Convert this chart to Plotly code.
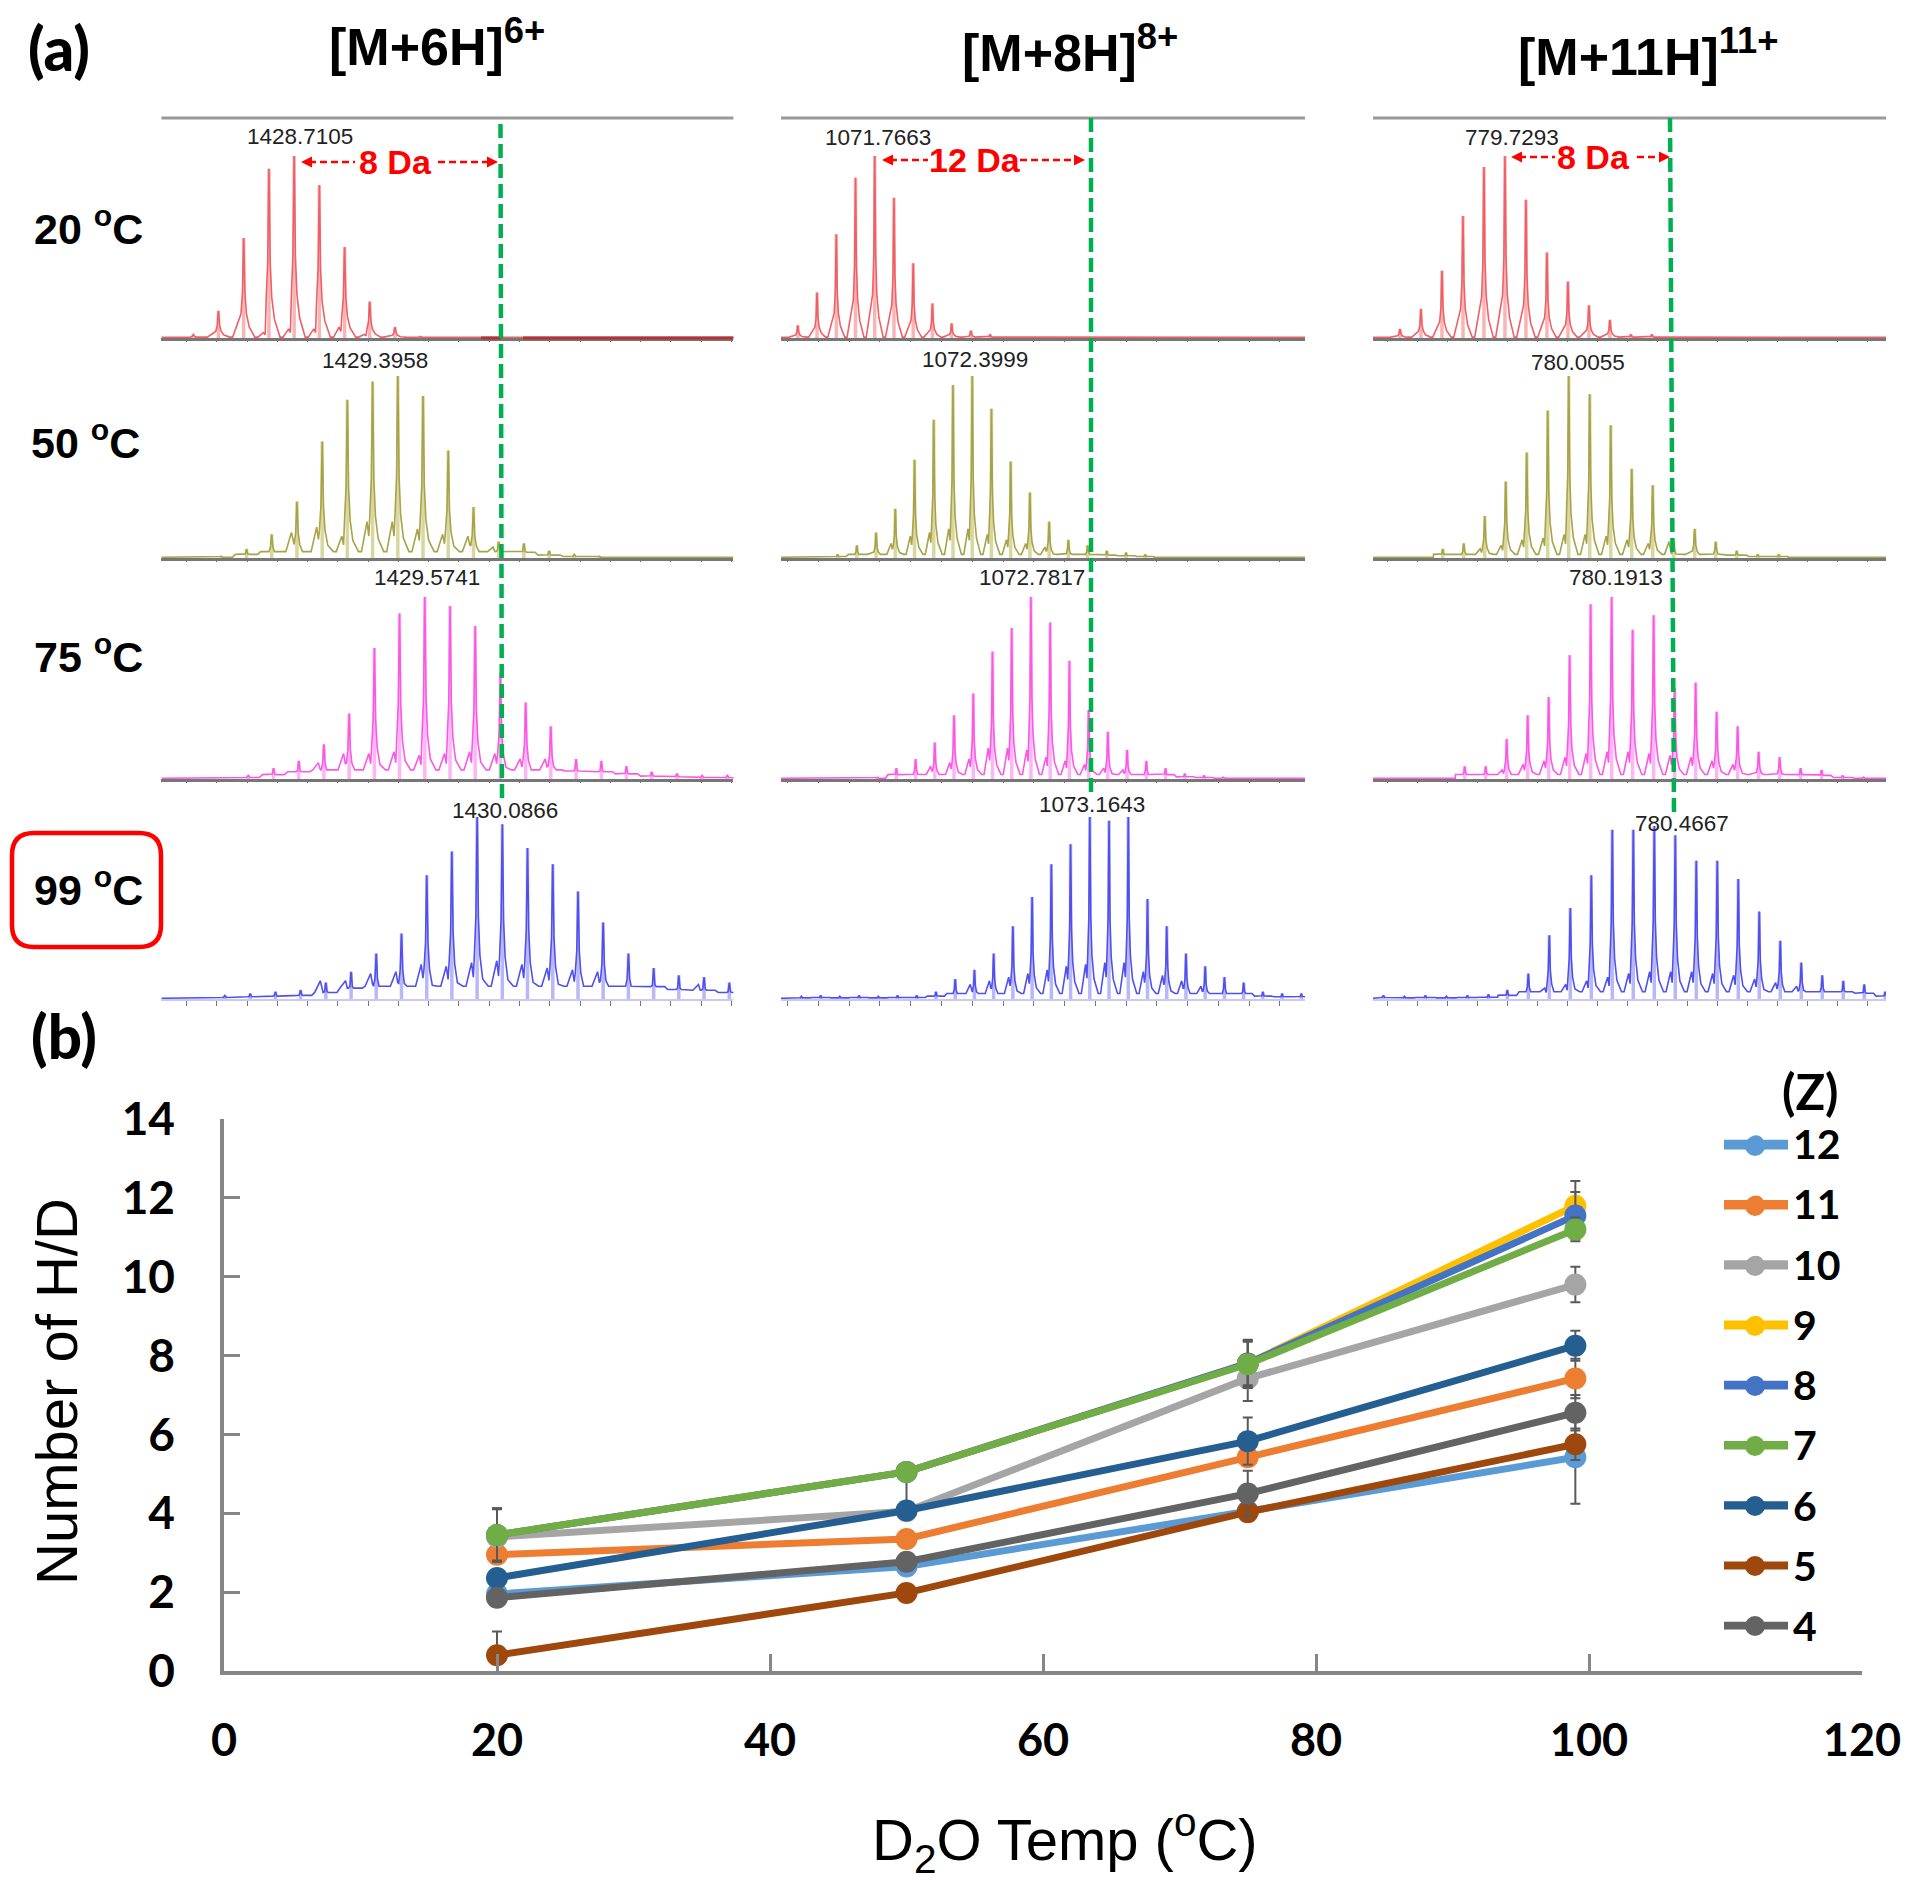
import plotly.graph_objects as go

# ---- panel (a): peaks (m/z, % height, left satellite %)
MZ_6_20 = [1428.044, 1428.21, 1428.377, 1428.544, 1428.7105, 1428.877, 1429.044, 1429.21, 1429.377, 1429.544]
H_6_20 = [2, 15, 55, 93, 100, 84, 50, 20, 6, 1]
S_6_20 = [0, 0, 0, 3, 5, 5, 6, 2, 0, 0]
MZ_6_50 = [1428.229, 1428.396, 1428.562, 1428.729, 1428.896, 1429.062, 1429.229, 1429.3958, 1429.5625, 1429.729,
           1429.896, 1430.062, 1430.229, 1430.396, 1430.562, 1430.729]
H_6_50 = [1, 5, 13, 31, 64, 87, 97, 100, 89, 59, 28, 9, 8, 4, 2, 1]
S_6_50 = [0, 0, 0, 14, 17, 12, 20, 20, 16, 13, 12, 6, 0, 0, 0, 0]
MZ_6_75 = [1428.407, 1428.574, 1428.741, 1428.907, 1429.074, 1429.241, 1429.407, 1429.5741, 1429.741, 1429.907,
           1430.074, 1430.241, 1430.407, 1430.574, 1430.741, 1430.907, 1431.074, 1431.241, 1431.407, 1431.574]
H_6_75 = [2, 6, 10, 19, 36, 72, 91, 100, 95, 84, 58, 42, 29, 11, 10, 7, 4, 3, 2, 2]
S_6_75 = [0, 0, 0, 9, 14, 14, 15, 13, 14, 15, 14, 11, 11, 0, 0, 0, 0, 0, 0, 0]
MZ_6_99 = [1428.253, 1428.42, 1428.587, 1428.753, 1428.92, 1429.087, 1429.253, 1429.42, 1429.587, 1429.753, 1429.92,
           1430.0866, 1430.253, 1430.42, 1430.587, 1430.753, 1430.92, 1431.087, 1431.253, 1431.42, 1431.587]
H_6_99 = [2, 3, 4, 5, 9, 15, 25, 36, 68, 81, 100, 96, 83, 74, 59, 42, 25, 17, 13, 12, 9]
S_6_99 = [0, 0, 0, 0, 10, 10, 14, 15, 19, 18, 20, 21, 19, 17, 16, 15, 0, 0, 0, 8, 0]

MZ_8_20 = [1071.2663, 1071.3913, 1071.5163, 1071.6413, 1071.7663, 1071.8913, 1072.0163, 1072.1413, 1072.2663,
           1072.3913, 1072.5163]
H_8_20 = [7, 25, 57, 88, 100, 77, 41, 19, 8, 4, 2]
S_8_20 = [0] * 11
MZ_8_50 = [1071.5249, 1071.6499, 1071.7749, 1071.8999, 1072.0249, 1072.1499, 1072.2749, 1072.3999, 1072.5249,
           1072.6499, 1072.7749, 1072.8999, 1073.0249, 1073.1499, 1073.2749, 1073.3999, 1073.5249]
H_8_50 = [2, 7, 14, 27, 54, 76, 95, 100, 82, 53, 36, 20, 10, 7, 4, 3, 2]
S_8_50 = [0, 0, 0, 8, 12, 14, 16, 16, 13, 10, 8, 6, 0, 0, 0, 0, 0]
MZ_8_75 = [1071.7817, 1071.9067, 1072.0317, 1072.1567, 1072.2817, 1072.4067, 1072.5317, 1072.6567, 1072.7817,
           1072.9067, 1073.0317, 1073.1567, 1073.2817, 1073.4067, 1073.5317, 1073.6567, 1073.7817, 1073.9067,
           1074.0317]
H_8_75 = [1, 6, 11, 20, 35, 47, 70, 83, 100, 86, 65, 38, 26, 16, 10, 6, 3, 2, 1]
S_8_75 = [0, 0, 0, 7, 9, 11, 17, 17, 16, 12, 10, 8, 6, 5, 0, 0, 0, 0, 0]
MZ_8_99 = [1071.2893, 1071.4143, 1071.5393, 1071.6643, 1071.7893, 1071.9143, 1072.0393, 1072.1643, 1072.2893,
           1072.4143, 1072.5393, 1072.6643, 1072.7893, 1072.9143, 1073.0393, 1073.1643, 1073.2893, 1073.4143,
           1073.5393, 1073.6643, 1073.7893, 1073.9143, 1074.0393, 1074.1643, 1074.2893, 1074.4143, 1074.5393]
H_8_99 = [1.5, 2, 1.5, 2, 1.5, 2, 2, 4, 11, 16, 25, 40, 56, 74, 85, 100, 98, 100, 55, 40, 25, 18, 12, 9, 4, 3, 3]
S_8_99 = [0, 0, 0, 0, 0, 0, 0, 0, 0, 8, 10, 12, 14, 16, 18, 19, 20, 20, 15, 13, 10, 7, 0, 0, 0, 0, 0]

MZ_11_20 = [779.2748, 779.3657, 779.4566, 779.5475, 779.6384, 779.7293, 779.8202, 779.9111, 780.002, 780.0929,
            780.1838, 780.2747, 780.3656]
H_11_20 = [5, 16, 37, 67, 94, 100, 76, 47, 31, 18, 10, 2, 2]
S_11_20 = [0] * 13
MZ_11_50 = [779.4601, 779.551, 779.6419, 779.7328, 779.8237, 779.9146, 780.0055, 780.0964, 780.1873, 780.2782,
            780.3691, 780.46, 780.5509, 780.6418, 780.7327, 780.8236, 780.9145]
H_11_50 = [5, 8, 23, 42, 58, 81, 100, 90, 73, 49, 40, 9, 16, 9, 4, 2, 2]
S_11_50 = [0, 0, 5, 7, 10, 11, 13, 13, 12, 10, 8, 9, 0, 0, 0, 0, 0]
MZ_11_75 = [779.555, 779.6459, 779.7368, 779.8277, 779.9186, 780.0095, 780.1004, 780.1913, 780.2822, 780.3731,
            780.464, 780.5549, 780.6458, 780.7367, 780.8276, 780.9185, 781.0094, 781.1003, 781.1912, 781.2821]
H_11_75 = [7, 7, 22, 35, 45, 68, 96, 100, 82, 90, 50, 53, 37, 29, 15, 12, 6, 5, 2, 1]
S_11_75 = [0, 0, 5, 8, 10, 12, 14, 15, 15, 14, 13, 12, 10, 8, 0, 0, 0, 0, 0, 0]
MZ_11_99 = [779.2031, 779.294, 779.3849, 779.4758, 779.5667, 779.6576, 779.7395, 779.8304, 779.9213, 780.0122,
            780.1031, 780.194, 780.2849, 780.3758, 780.4667, 780.5576, 780.6485, 780.7394, 780.8303, 780.9212,
            781.0121, 781.103, 781.1939, 781.2848, 781.3757]
H_11_99 = [2, 1.5, 2, 1.5, 2, 2.5, 5, 14, 35, 50, 68, 93, 93, 95, 90, 76, 76, 66, 48, 32, 20, 13, 10, 8, 4]
S_11_99 = [0, 0, 0, 0, 0, 0, 0, 0, 6, 8, 10, 12, 14, 15, 15, 15, 14, 13, 11, 9, 7, 0, 0, 0, 0]

VALLEY_6 = [0.5, 3.5, 5, 7]
VALLEY_8 = [0.5, 2, 2.5, 3]
VALLEY_11 = [0.5, 2, 2.5, 4]

COLUMN_TITLES = ["[M+6H]<sup>6+</sup>", "[M+8H]<sup>8+</sup>", "[M+11H]<sup>11+</sup>"]
TEMP_LABELS = ["20 <sup>o</sup>C", "50 <sup>o</sup>C", "75 <sup>o</sup>C", "99 <sup>o</sup>C"]
PEAK_LABELS = [["1428.7105", "1429.3958", "1429.5741", "1430.0866"],
               ["1071.7663", "1072.3999", "1072.7817", "1073.1643"],
               ["779.7293", "780.0055", "780.1913", "780.4667"]]
SHIFT_LABELS = ["8 Da", "12 Da", "8 Da"]

# ---- panel (b): D2O temperature vs number of H/D, per charge state
TEMPS = [20, 50, 75, 99]
CHARGES = ["12", "11", "10", "9", "8", "7", "6", "5", "4"]
HD_12 = [1.95, 2.65, 4.05, 5.42]
HD_11 = [2.95, 3.35, 5.42, 7.42]
HD_10 = [3.4, 4.05, 7.42, 9.8]
HD_9 = [3.45, 5.05, 7.8, 11.8]
HD_8 = [3.45, 5.05, 7.8, 11.55]
HD_7 = [3.45, 5.05, 7.78, 11.2]
HD_6 = [2.36, 4.07, 5.83, 8.25]
HD_5 = [0.4, 1.98, 4.03, 5.75]
HD_4 = [1.86, 2.77, 4.5, 6.55]
ERR_12 = [0.2, 0.2, 0.2, 1.18]
ERR_11 = [0.2, 0.2, 0.2, 0.5]
ERR_10 = [0.2, 0.2, 0.57, 0.45]
ERR_9 = [0.68, 0.2, 0.6, 0.63]
ERR_8 = [0.65, 0.2, 0.55, 0.6]
ERR_7 = [0.68, 0.2, 0.6, 0.3]
ERR_7_LOW = [0.68, 0.9, 0.6, 0.3]
ERR_6 = [0.2, 0.2, 0.6, 0.38]
ERR_5 = [0.6, 0.2, 0.2, 0.4]
ERR_4 = [0.2, 0.2, 0.58, 0.45]

SANS = "Liberation Sans"
LATO = "Lato"
W, H = 1920, 1890


def fx(x):
    return x / W


def fy(y):
    return 1 - y / H


def profile(mz, heights, sats, valley, x0, x1):
    # turn a peak table into the drawn trace: sharp tip, feet, small left satellite
    sp = mz[1] - mz[0]
    xs, ys = [x0, mz[0] - 0.45 * sp], [0.4, 0.4]
    for m, h, s in zip(mz, heights, sats):
        v = min(valley, h * 0.4)
        xs += [m - 0.44 * sp]
        ys += [v]
        if s > v:
            xs += [m - 0.22 * sp, m - 0.15 * sp]
            ys += [s, s * 0.6]
        xs += [m - 0.11 * sp, m - 0.05 * sp, m - 0.02 * sp, m,
               m + 0.02 * sp, m + 0.05 * sp, m + 0.11 * sp, m + 0.22 * sp, m + 0.44 * sp]
        ys += [max(0.24 * h, v), 0.45 * h, 0.8 * h, h,
               0.8 * h, 0.45 * h, max(0.24 * h, v), max(0.11 * h, v), v]
    xs += [mz[-1] + 0.45 * sp, x1]
    ys += [0.4, 0.4]
    return xs, ys


def stems(mz, heights):
    xs, ys = [], []
    for m, h in zip(mz, heights):
        xs += [m, m, None]
        ys += [0, h, None]
    return xs, ys


fig = go.Figure()

ROW_BASE = [338, 558, 779, 999]
ROW_COLORS = ["#ef6066", "#a6a348", "#fb58e4", "#5050ee"]
STEM_COLORS = ["#f9b5b5", "#d9d7a0", "#fdb5f3", "#b8b8f8"]
COL_PX = [(161.4, 733.4), (781, 1305), (1373, 1886)]
COL_RANGE = [(1427.833, 1431.614), (1071.157, 1074.563), (779.158, 781.379)]
COL_TICK = [0.2, 0.2, 0.13]
PANELS = [
    [(MZ_6_20, H_6_20, S_6_20), (MZ_6_50, H_6_50, S_6_50), (MZ_6_75, H_6_75, S_6_75), (MZ_6_99, H_6_99, S_6_99)],
    [(MZ_8_20, H_8_20, S_8_20), (MZ_8_50, H_8_50, S_8_50), (MZ_8_75, H_8_75, S_8_75), (MZ_8_99, H_8_99, S_8_99)],
    [(MZ_11_20, H_11_20, S_11_20), (MZ_11_50, H_11_50, S_11_50), (MZ_11_75, H_11_75, S_11_75),
     (MZ_11_99, H_11_99, S_11_99)],
]
VALLEYS = [VALLEY_6, VALLEY_8, VALLEY_11]

axes = {}
n = 0
for c, col in enumerate(PANELS):
    for r, (mz, hts, sats) in enumerate(col):
        n += 1
        xa, ya = f"x{n}", f"y{n}"
        sx, sy = stems(mz, hts)
        fig.add_trace(go.Scatter(x=sx, y=sy, xaxis=xa, yaxis=ya, mode="lines", showlegend=False, hoverinfo="skip",
                                 line=dict(color=STEM_COLORS[r], width=3.5)))
        px_, py_ = profile(mz, hts, sats, VALLEYS[c][r], COL_RANGE[c][0], COL_RANGE[c][1])
        fig.add_trace(go.Scatter(x=px_, y=py_, xaxis=xa, yaxis=ya, mode="lines", showlegend=False, hoverinfo="skip",
                                 line=dict(color=ROW_COLORS[r], width=1.6)))
        last = r == 3
        axes[f"xaxis{n}"] = dict(domain=[fx(COL_PX[c][0]), fx(COL_PX[c][1])], range=list(COL_RANGE[c]),
                                 anchor=ya, showgrid=False, zeroline=False, showticklabels=False,
                                 showline=True, linecolor="#c9c9f6" if last else "#777777",
                                 linewidth=2 if last else 3, layer="above traces",
                                 ticks="outside", dtick=COL_TICK[c], ticklen=5 if last else 1, tickwidth=1,
                                 tickcolor="#777777" if last else "#666666")
        axes[f"yaxis{n}"] = dict(domain=[fy(ROW_BASE[r]), fy(ROW_BASE[r] - 190)], range=[0, 104.4], anchor=xa,
                                 visible=False)

SERIES = [HD_12, HD_11, HD_10, HD_9, HD_8, HD_7, HD_6, HD_5, HD_4]
ERRORS = [ERR_12, ERR_11, ERR_10, ERR_9, ERR_8, ERR_7, ERR_6, ERR_5, ERR_4]
ERRORS_LOW = [ERR_12, ERR_11, ERR_10, ERR_9, ERR_8, ERR_7_LOW, ERR_6, ERR_5, ERR_4]
COLORS = ["#5b9bd5", "#ed7d31", "#a5a5a5", "#ffc000", "#4472c4", "#70ad47", "#255e91", "#9e480e", "#636363"]
for name, vals, errs, errs_low, color in zip(CHARGES, SERIES, ERRORS, ERRORS_LOW, COLORS):
    fig.add_trace(go.Scatter(x=TEMPS, y=vals, name=name, legendgroup=name, xaxis="x13", yaxis="y13",
                             mode="lines+markers", line=dict(color=color, width=7), marker=dict(color=color, size=22),
                             error_y=dict(type="data", symmetric=False, array=errs, arrayminus=errs_low,
                                          color="#595959", thickness=2, width=5)))

axes["xaxis13"] = dict(domain=[fx(224), fx(1862)], range=[0, 120], anchor="y13", dtick=20, showgrid=False,
                       zeroline=False, showline=True, linecolor="#868686", linewidth=3.5, ticks="inside", ticklen=17,
                       tickwidth=2.5, tickcolor="#868686", ticklabelstandoff=27,
                       tickfont=dict(family=LATO, size=45, weight=700, color="black"))
axes["yaxis13"] = dict(domain=[fy(1671), fy(1119)], range=[0, 14], anchor="x13", dtick=2, showgrid=False,
                       zeroline=False, showline=True, linecolor="#868686", linewidth=3.5, ticks="inside", ticklen=16,
                       tickwidth=2.5, tickcolor="#868686", ticklabelstandoff=36,
                       tickfont=dict(family=LATO, size=46, weight=700, color="black"))


def label(text, x, y, size, family=SANS, weight=400, color="black", angle=0):
    return dict(text=text, x=fx(x), y=fy(y), xref="paper", yref="paper", showarrow=False, xanchor="center",
                yanchor="middle", textangle=angle, font=dict(family=family, size=size, weight=weight, color=color))


notes = [label("(a)", 59, 48, 60, LATO, 900), label("(b)", 64, 1036, 60, LATO, 900),
         label("(Z)", 1810, 1091, 49, LATO, 700),
         label("Number of H/D", 56, 1392, 58, angle=-90),
         label("D<sub>2</sub>O Temp (<sup>o</sup>C)", 1065, 1840, 58)]
for text, x, y in zip(COLUMN_TITLES, [437, 1070, 1648], [43, 49, 53]):
    notes.append(label(text, x, y, 52, SANS, 700))
for text, x, y in zip(TEMP_LABELS, [88, 85, 88, 88], [226, 440, 654, 887]):
    notes.append(label(text, x, y, 43, SANS, 700))
LABEL_X = [[300, 375, 427, 505], [878, 975, 1032, 1092], [1512, 1578, 1616, 1682]]
LABEL_Y = [[136, 360, 578, 810], [137, 359, 577, 804], [137, 362, 577, 823]]
for c in range(3):
    for r in range(4):
        notes.append(label(PEAK_LABELS[c][r], LABEL_X[c][r], LABEL_Y[c][r], 22.5, color="#222222"))
for text, x, y in zip(SHIFT_LABELS, [395, 975, 1593], [162, 160, 157]):
    notes.append(label(text, x, y, 34, SANS, 700, "#ff0000"))


def line_shape(x0, y0, x1, y1, color, width, dash="solid"):
    return dict(type="line", xref="paper", yref="paper", x0=fx(x0), y0=fy(y0), x1=fx(x1), y1=fy(y1),
                line=dict(color=color, width=width, dash=dash))


def arrow_head(x, y, direction):
    path = f"M {fx(x)},{fy(y)} L {fx(x - direction * 11)},{fy(y - 5.5)} L {fx(x - direction * 11)},{fy(y + 5.5)} Z"
    return dict(type="path", xref="paper", yref="paper", path=path, fillcolor="#ff0000", line=dict(width=0))


def rounded_box(x0, y0, x1, y1, rad):
    pts = [f"M {fx(x0 + rad)},{fy(y0)}", f"L {fx(x1 - rad)},{fy(y0)}", f"Q {fx(x1)},{fy(y0)} {fx(x1)},{fy(y0 + rad)}",
           f"L {fx(x1)},{fy(y1 - rad)}", f"Q {fx(x1)},{fy(y1)} {fx(x1 - rad)},{fy(y1)}",
           f"L {fx(x0 + rad)},{fy(y1)}", f"Q {fx(x0)},{fy(y1)} {fx(x0)},{fy(y1 - rad)}",
           f"L {fx(x0)},{fy(y0 + rad)}", f"Q {fx(x0)},{fy(y0)} {fx(x0 + rad)},{fy(y0)} Z"]
    return dict(type="path", xref="paper", yref="paper", path=" ".join(pts), line=dict(color="#ff0000", width=4.5))


shapes = [rounded_box(12, 833, 161, 947, 22),
          line_shape(523, 338, 733.4, 338, "#ad3535", 3), line_shape(481, 338, 501, 338, "#ad3535", 3)]
for x0, x1 in COL_PX:
    shapes.append(line_shape(x0, 118, x1, 118, "#999999", 3))
GREEN_DASH = "14px,6px"
shapes += [line_shape(500.5, 124, 502, 803, "#00b050", 4.5, GREEN_DASH),
           line_shape(1091, 118, 1091, 793, "#00b050", 4.5, GREEN_DASH),
           line_shape(1670, 118, 1674, 815, "#00b050", 4.5, GREEN_DASH)]
RED_DASH = "7px,4px"
for left, mid0, mid1, right, y in [(301, 355, 438, 498, 162), (882, 928, 1020, 1085, 160), (1511, 1555, 1637, 1670, 157)]:
    shapes += [line_shape(left + 8, y, mid0, y, "#ff0000", 2.5, RED_DASH),
               line_shape(mid1, y, right - 8, y, "#ff0000", 2.5, RED_DASH),
               arrow_head(left, y, -1), arrow_head(right, y, 1)]

# the native legend caps its glyphs, so thicken them to the reference size
LEGEND_ROWS = [1146, 1206, 1266, 1326, 1386, 1446, 1506, 1566, 1626]
for row_y, color in zip(LEGEND_ROWS, COLORS):
    shapes.append(line_shape(1724, row_y, 1788, row_y, color, 7))
    shapes.append(dict(type="circle", xref="paper", yref="paper", x0=fx(1745), x1=fx(1765), y0=fy(row_y - 10),
                       y1=fy(row_y + 10), fillcolor=color, line=dict(width=0)))

fig.update_layout(width=W, height=H, margin=dict(l=0, r=0, t=0, b=0, autoexpand=False), paper_bgcolor="white",
                  plot_bgcolor="white", annotations=notes, shapes=shapes, showlegend=True,
                  legend=dict(x=fx(1719), y=fy(1110), xanchor="left", yanchor="top", itemwidth=64, tracegroupgap=3.95,
                              bgcolor="rgba(0,0,0,0)", font=dict(family=LATO, size=41, weight=700, color="black"),
                              itemclick=False, itemdoubleclick=False),
                  **axes)

fig.write_html("out.html", config={"displayModeBar": False}, post_script="document.body.style.margin='0';")
